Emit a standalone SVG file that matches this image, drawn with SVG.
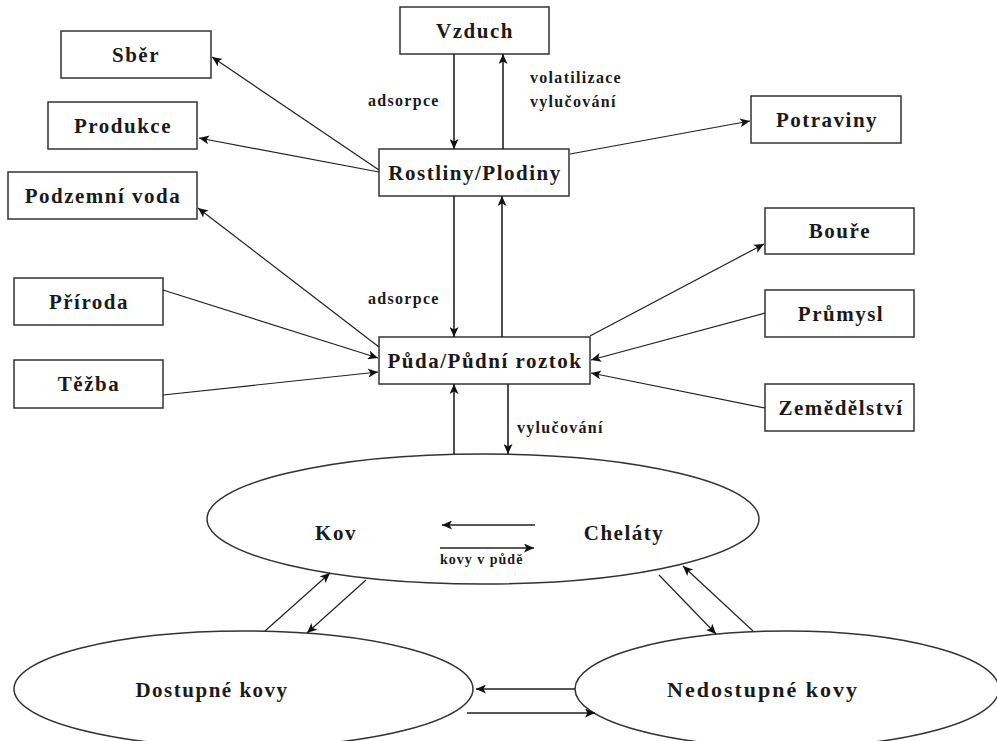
<svg xmlns="http://www.w3.org/2000/svg" width="997" height="741" viewBox="0 0 997 741">
<style>
.box{fill:#fff;stroke:#333;stroke-width:1.5}
.ell{fill:#fff;stroke:#333;stroke-width:1.5}
.t{font-family:"Liberation Serif","Times New Roman",serif;font-weight:bold;font-size:21px;letter-spacing:1.5px;fill:#1a1a1a;text-anchor:middle}
.big{font-size:22px;letter-spacing:2px}
.lbl{font-family:"Liberation Serif","Times New Roman",serif;font-weight:bold;font-size:16px;letter-spacing:1.3px;fill:#1a1a1a}
.sm{font-size:14px;letter-spacing:1px}
.c{fill:none;stroke:#222;stroke-width:1.2;marker-end:url(#ah)}
.cv{stroke-width:1.6}
</style>
<defs>
<marker id="ah" markerUnits="userSpaceOnUse" markerWidth="11" markerHeight="9" refX="10" refY="4.5" orient="auto">
<path d="M0,0 L10,4.5 L0,9 L2.5,4.5 z" fill="#111"/>
</marker>
</defs>
<g id="n-sber"><rect class="box" x="61" y="31" width="150" height="47"/><text class="t" x="136" y="62">Sběr</text></g>
<g id="n-produkce"><rect class="box" x="48" y="102" width="149" height="47"/><text class="t" x="123" y="133">Produkce</text></g>
<g id="n-podzemni"><rect class="box" x="8" y="172" width="189" height="47"/><text class="t" x="103" y="203">Podzemní voda</text></g>
<g id="n-vzduch"><rect class="box" x="400" y="7" width="149" height="47"/><text class="t" x="475" y="38">Vzduch</text></g>
<g id="n-rostliny"><rect class="box" x="379" y="149" width="190" height="47"/><text class="t" x="475" y="180">Rostliny/Plodiny</text></g>
<g id="n-potraviny"><rect class="box" x="751" y="96" width="150" height="47"/><text class="t" x="827" y="127">Potraviny</text></g>
<g id="n-boure"><rect class="box" x="765" y="208" width="149" height="46"/><text class="t" x="840" y="238">Bouře</text></g>
<g id="n-prumysl"><rect class="box" x="765" y="290" width="149" height="47"/><text class="t" x="841" y="321">Průmysl</text></g>
<g id="n-zemedelstvi"><rect class="box" x="765" y="384" width="149" height="47"/><text class="t" x="841" y="415">Zemědělství</text></g>
<g id="n-priroda"><rect class="box" x="14" y="278" width="149" height="47"/><text class="t" x="89" y="309">Příroda</text></g>
<g id="n-tezba"><rect class="box" x="14" y="360" width="149" height="48"/><text class="t" x="89" y="391">Těžba</text></g>
<g id="n-puda"><rect class="box" x="379" y="337" width="211" height="47"/><text class="t" x="485" y="368">Půda/Půdní roztok</text></g>
<g id="n-kovy"><ellipse class="ell" cx="483" cy="519" rx="276" ry="65"/><text class="t" x="336" y="540">Kov</text><text class="t" x="624" y="540">Cheláty</text></g>
<g id="n-dostupne"><ellipse class="ell" cx="243.5" cy="689" rx="229.5" ry="58"/><text class="t" x="212" y="697">Dostupné kovy</text></g>
<g id="n-nedostupne"><ellipse class="ell" cx="787" cy="689" rx="212" ry="58"/><text class="t big" x="763" y="697">Nedostupné kovy</text></g>
<g id="connectors">
<line class="c cv" x1="454" y1="54" x2="454" y2="149"/>
<line class="c cv" x1="503" y1="149" x2="503" y2="54"/>
<line class="c cv" x1="454" y1="196" x2="454" y2="337"/>
<line class="c cv" x1="502" y1="337" x2="502" y2="196"/>
<line class="c cv" x1="454" y1="454" x2="454" y2="384"/>
<line class="c cv" x1="508" y1="384" x2="508" y2="454"/>
<line class="c" x1="379" y1="170" x2="212" y2="57"/>
<line class="c" x1="379" y1="172" x2="199" y2="138"/>
<line class="c" x1="570" y1="154" x2="750" y2="121"/>
<line class="c" x1="379" y1="347" x2="198" y2="208"/>
<line class="c" x1="163" y1="290" x2="378" y2="358"/>
<line class="c" x1="163" y1="395" x2="378" y2="372"/>
<line class="c" x1="590" y1="336" x2="764" y2="244"/>
<line class="c" x1="765" y1="313" x2="591" y2="360"/>
<line class="c" x1="765" y1="408" x2="591" y2="373"/>
<line class="c cv" x1="535" y1="525" x2="442" y2="525"/>
<line class="c cv" x1="440" y1="548" x2="534" y2="548"/>
<line class="c" x1="265" y1="631" x2="330" y2="573"/>
<line class="c" x1="366" y1="580" x2="307" y2="633"/>
<line class="c" x1="659" y1="575" x2="716" y2="634"/>
<line class="c" x1="753" y1="631" x2="683" y2="566"/>
<line class="c cv" x1="575" y1="689" x2="476" y2="689"/>
<line class="c cv" x1="467" y1="713" x2="595" y2="713"/>
</g>
<g id="labels">
<text class="lbl" x="368" y="106">adsorpce</text>
<text class="lbl" x="530" y="83">volatilizace</text>
<text class="lbl" x="530" y="107">vylučování</text>
<text class="lbl" x="368" y="304">adsorpce</text>
<text class="lbl" x="517" y="433">vylučování</text>
<text class="lbl sm" x="440" y="564">kovy v půdě</text>
</g>
</svg>
